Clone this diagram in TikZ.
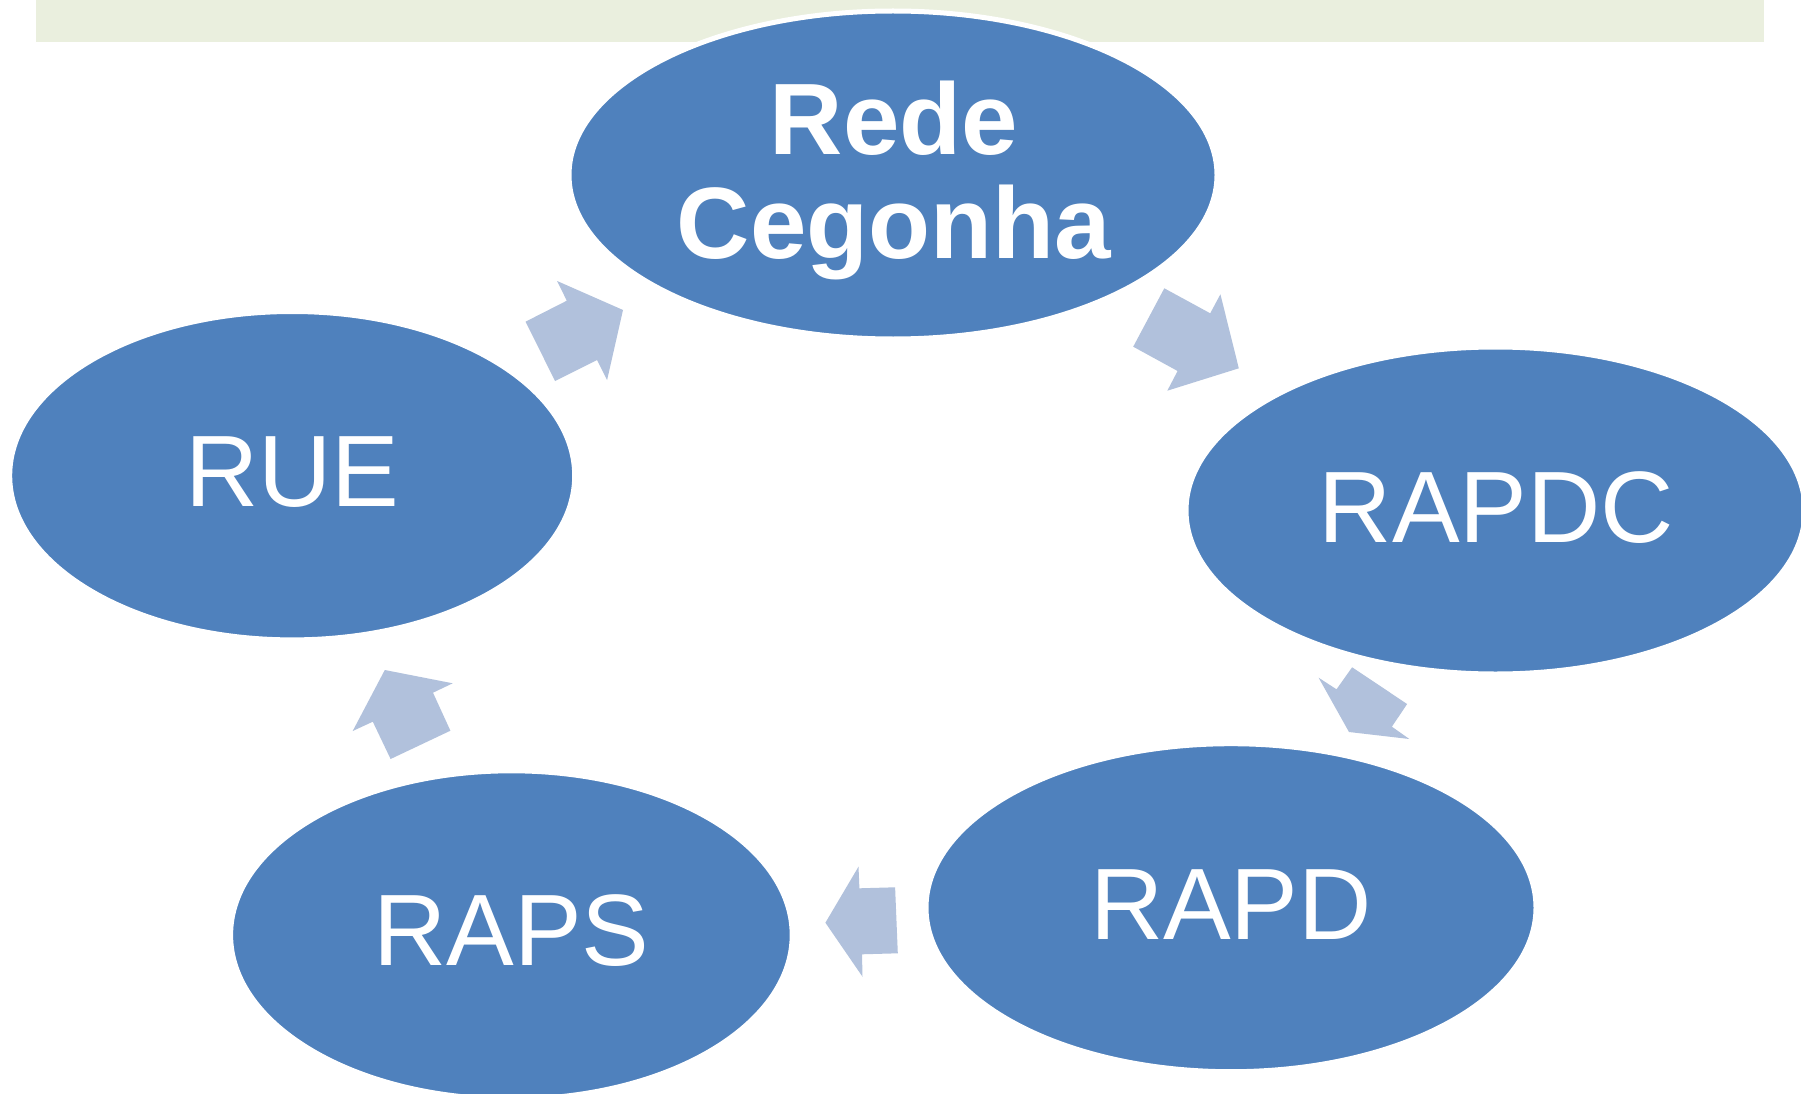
\documentclass[tikz,border=0pt]{standalone}
\usepackage{fontspec}
\setmainfont{Liberation Sans}
\usetikzlibrary{calc,shapes.geometric}
\definecolor{ellblue}{HTML}{4F81BD}
\definecolor{arrblue}{HTML}{B1C1DC}
\definecolor{bandgreen}{HTML}{EAEFDE}
\begin{document}
\begin{tikzpicture}[x=1pt,y=-1pt,
  bubble/.style={ellipse, fill=ellblue, draw=white, line width=5pt, inner sep=0pt},
  lbl/.style={text=white, font=\fontsize{101.5}{104}\selectfont, inner sep=0pt, anchor=base},
  cyclearrow/.style={fill=arrblue}]
\clip (0,0) rectangle (1801,1094);
\fill[white] (0,0) rectangle (1801,1094);
\fill[bandgreen] (36,0) rectangle (1764,42);

% ellipses
\node[bubble, minimum width=648pt, minimum height=328pt] (rede) at (893,175) {};
\node[bubble, minimum width=565pt, minimum height=328.4pt] (rue) at (292.2,475.7) {};
\node[bubble, minimum width=619pt, minimum height=327pt] (rapdc) at (1495.5,510.5) {};
\node[bubble, minimum width=610pt, minimum height=328pt] (rapd) at (1231,907.7) {};
\node[bubble, minimum width=561.6pt, minimum height=328.4pt] (raps) at (511.4,935) {};

% labels (base anchor of the two-line label is the baseline of its last line)
\node[lbl, font=\fontsize{101.5}{104}\selectfont\bfseries, align=center] (redeT) at ($(rede.center)+(1,83)$) {Rede\\Cegonha};
\node[lbl] (rueT) at ($(rue.center)+(0,31.2)$) {RUE};
\node[lbl] (rapdcT) at ($(rapdc.center)+(1,31.6)$) {RAPDC};
\node[lbl] (rapdT) at ($(rapd.center)+(0,31.6)$) {RAPD};
\node[lbl] (rapsT) at ($(raps.center)+(0,30.8)$) {RAPS};

% cycle arrows
\fill[cyclearrow] (557.1,281) -- (623,310) -- (607.1,380) -- (597,360) -- (555.1,381) -- (525.5,321.7) -- (566.8,300.7) -- cycle;
\fill[cyclearrow] (1164.3,288.3) -- (1210.2,313.3) -- (1220.4,294.3) -- (1238.8,368.3) -- (1167.3,390.7) -- (1177.6,371) -- (1133.2,346.7) -- cycle;
\fill[cyclearrow] (1352.1,667.3) -- (1407.1,704) -- (1391.9,726.7) -- (1409.3,739) -- (1349,732) -- (1318.6,677.7) -- (1336.5,689.3) -- cycle;
\fill[cyclearrow] (858.5,866.7) -- (859.4,888.3) -- (895.1,887.3) -- (897.8,953.3) -- (862,954.3) -- (862.5,976.7) -- (825.4,922.7) -- cycle;
\fill[cyclearrow] (384.8,670) -- (452.7,683.3) -- (433,692.7) -- (450.4,730.7) -- (390.6,759) -- (372.8,721.7) -- (352.7,731) -- cycle;
\end{tikzpicture}
\end{document}
